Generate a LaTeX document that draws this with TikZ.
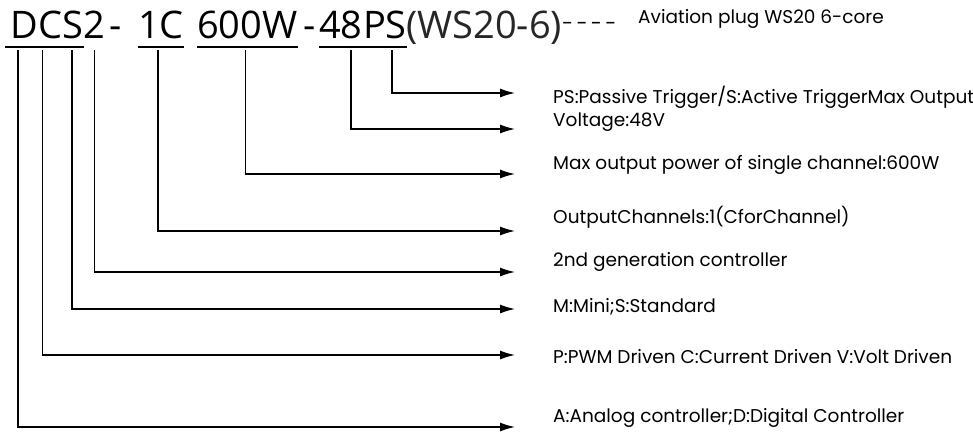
\documentclass[tikz,border=0pt]{standalone}
\usepackage{fontspec}
\setmainfont{Open Sans}
\newfontfamily\labelfont{Poppins}
\usetikzlibrary{positioning,arrows.meta}

\tikzset{
  code/.style={font=\fontsize{38}{40}\selectfont, inner sep=0pt, text height=27pt, text depth=0pt},
  desc/.style={font=\labelfont\fontsize{18.5}{21}\selectfont, anchor=west, inner sep=0pt},
  lead/.style={line width=1.3pt, -{Latex[length=15pt,width=9pt]}},
  uline/.style={line width=1.8pt},
}

\begin{document}
\begin{tikzpicture}[x=1pt,y=-1pt]
    \useasboundingbox (0,0) rectangle (973,433);
    % model code
    \node[code,anchor=base west] (D) at (10,39) {D};
    \node[code,right=0pt of D] (C) {C};
    \node[code,right=0pt of C] (S) {S};
    \node[code,right=0pt of S] (Gen) {2};
    \node[code,anchor=base west] (dashA) at (109,39) {-};
    \node[code,anchor=base west] (Ch) at (138,39) {1C};
    \node[code,anchor=base west] (Pw) at (197,39) {600W};
    \node[code,anchor=base west] (dashB) at (303,39) {-};
    \node[code,anchor=base west] (Volt) at (319,39) {48};
    \node[code,right=0pt of Volt] (Trig) {PS};
    \node[code,anchor=base west,text=black!85] (Plug) at (406,39) {(WS20-6)};
    \node[desc,anchor=base west,font=\labelfont\fontsize{20}{22}\selectfont] (dashC) at (562,31) {-\,-\,-\,-};
    \node[desc] (lPlug) at (638,19) {Aviation plug WS20 6-core};
    % underlines
    \draw[uline] ([shift={(-5pt,-8pt)}]D.south west) -- ([yshift=-8pt]S.south east);
    \draw[uline] ([yshift=-8pt]Ch.south west) -- ([yshift=-8pt]Ch.south east);
    \draw[uline] ([yshift=-8pt]Pw.south west) -- ([yshift=-8pt]Pw.south east);
    \draw[uline] ([yshift=-8pt]Volt.south west) -- ([yshift=-8pt]Trig.south east);
    % arrow ends
    \coordinate (aTrig) at (515,93);
    \coordinate (aVolt) at (515,129);
    \coordinate (aPw) at (515,174);
    \coordinate (aCh) at (515,231);
    \coordinate (aGen) at (515,272);
    \coordinate (aS) at (515,309);
    \coordinate (aC) at (515,355);
    \coordinate (aD) at (515,427);
    % leaders
    \draw[lead] ([shift={(-6pt,-11pt)}]D.south) |- (aD);
    \draw[lead] ([shift={(-8pt,-11pt)}]C.south) |- (aC);
    \draw[lead] ([shift={(-1pt,-11pt)}]S.south) |- (aS);
    \draw[lead] ([yshift=-11pt]Gen.south) |- (aGen);
    \draw[lead] ([shift={(-3pt,-11pt)}]Ch.south) |- (aCh);
    \draw[lead] ([shift={(-2pt,-11pt)}]Pw.south) |- (aPw);
    \draw[lead] ([shift={(10pt,-11pt)}]Volt.south) |- (aVolt);
    \draw[lead] ([shift={(7pt,-11pt)}]Trig.south) |- (aTrig);
    % descriptions
    \node[desc] (lTrig) at (553,97) {PS:Passive Trigger/S:Active TriggerMax Output};
    \node[desc] (lVolt) at (553,122) {Voltage:48V};
    \node[desc] (lPw) at (553,165) {Max output power of single channel:600W};
    \node[desc] (lCh) at (553,217) {OutputChannels:1(CforChannel)};
    \node[desc] (lGen) at (553,262) {2nd generation controller};
    \node[desc] (lS) at (553,307) {M:Mini;S:Standard};
    \node[desc] (lC) at (553,357) {P:PWM Driven C:Current Driven V:Volt Driven};
    \node[desc] (lD) at (553,418) {A:Analog controller;D:Digital Controller};
\end{tikzpicture}
\end{document}
